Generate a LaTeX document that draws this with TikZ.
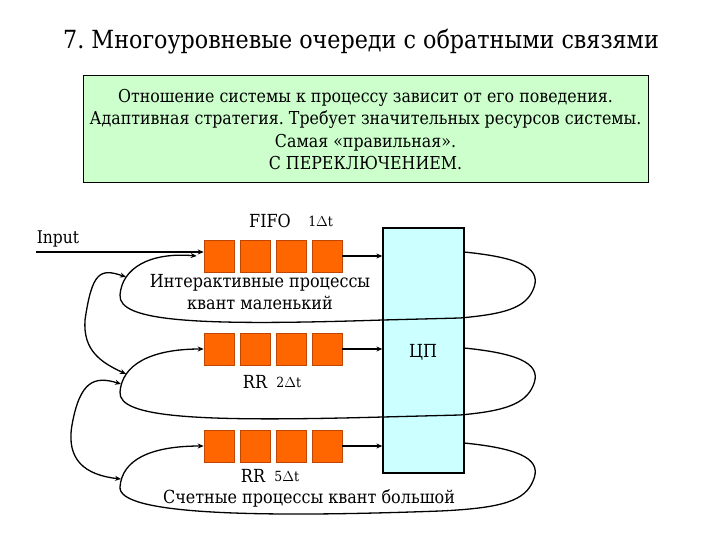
\documentclass[tikz,border=0pt]{standalone}
\usepackage{fontspec}
\setmainfont{DejaVu Serif}[FakeStretch=0.89]
\frenchspacing
\usepackage{tikz}
\usetikzlibrary{arrows.meta, positioning}
\definecolor{qorange}{RGB}{255,102,0}
\definecolor{qedge}{RGB}{190,70,0}
\definecolor{notegreen}{RGB}{204,255,204}
\definecolor{cpucyan}{RGB}{204,255,255}
\tikzstyle{cell} = [
    rectangle,
    draw=qedge,
    fill=qorange,
    line width=0.6pt,
    minimum width=30pt,
    minimum height=32pt,
    inner sep=0pt
]
\tikzstyle{label} = [
    inner sep=0pt,
    font=\fontsize{18}{22}\selectfont
]
\tikzstyle{quant} = [
    inner sep=0pt,
    font=\fontsize{14}{16}\selectfont
]
\tikzstyle{link} = [
    line width=1.3pt,
    -{Stealth[length=6pt,width=5pt]}
]
\tikzstyle{twolink} = [
    line width=1.3pt,
    {Stealth[length=6pt,width=5pt]}-{Stealth[length=6pt,width=5pt]}
]
\begin{document}
\begin{tikzpicture}[x=1pt, y=-1pt]
        \useasboundingbox (0,0) rectangle (720,540);

        % Title
        \node[inner sep=0pt, font=\fontsize{25}{30}\selectfont] (title) at (361,42) {7. Многоуровневые очереди с обратными связями};

        % Note
        \node[draw, line width=1pt, fill=notegreen, minimum width=565pt, minimum height=107pt,
              align=center, font=\fontsize{17.8}{22.5}\selectfont] (note) at (365.5,129.5)
              {Отношение системы к процессу зависит от его поведения.\\
               Адаптивная стратегия. Требует значительных ресурсов системы.\\
               Самая «правильная».\\
               С ПЕРЕКЛЮЧЕНИЕМ.};

        % CPU
        \node[draw, line width=1.3pt, fill=cpucyan, minimum width=81pt, minimum height=245pt] (cpu) at (423.5,350.5) {};
        \node[label] (cpulabel) at (423,352) {ЦП};

        % Queues
        \foreach \r/\y in {1/256, 2/349, 3/446} {
            \foreach \i in {1,...,4} {
                \node[cell] (q\r\i) at ({219+36*(\i-1)},\y) {};
            }
            \draw[link] (q\r4.east) -- (q\r4.east -| cpu.west);
        }

        % Labels
        \node[label] (fifo) at (270,221) {FIFO};
        \node[quant, right=17pt of fifo] (dt1) {1$\Delta$t};
        \node[label, align=center] (inter) at (260,292) {Интерактивные процессы\\квант маленький};
        \node[label] (rr2) at (255,382) {RR};
        \node[quant, right=9pt of rr2] (dt2) {2$\Delta$t};
        \node[label] (rr5) at (253,476) {RR};
        \node[quant, right=9pt of rr5] (dt5) {5$\Delta$t};
        \node[label] (batch) at (309,498) {Счетные процессы квант большой};

        % Input
        \node[inner sep=0pt, font=\fontsize{17.5}{20}\selectfont] (input) at (58,239) {Input};
        \coordinate (in) at (36,252);
        \draw[link] (in) -- (in -| q11.west);

        % Loops back from the CPU
        \coordinate (o1) at (464,252);
        \coordinate (o2) at (464,348);
        \coordinate (o3) at (464,443);
        \coordinate (j1) at (126,277);
        \coordinate (j2) at (126,374);
        \coordinate (k2) at (121,384);
        \coordinate (k3) at (121,479);
        \draw[link] (o1) .. controls (525,258) and (542,270) .. (533,290)
            .. controls (525,308) and (505,314) .. (460,318) -- (383,320)
            .. controls (200,326) and (118,322) .. (120,295)
            .. controls (122,268) and (150,252) .. ([xshift=-7pt]q11.west);
        \draw[link] (o2) .. controls (525,354) and (542,366) .. (533,386)
            .. controls (525,404) and (505,411) .. (460,415) -- (383,417)
            .. controls (200,422) and (118,418) .. (120,392)
            .. controls (122,365) and (150,349) .. (q21.west);
        \draw[link] (o3) .. controls (525,449) and (542,461) .. (533,481)
            .. controls (525,500) and (505,508) .. (440,511)
            .. controls (250,518) and (118,514) .. (120,487)
            .. controls (122,460) and (150,446) .. (q31.west);

        % Links between the levels
        \draw[twolink] (j1) .. controls (100,268) and (92,272) .. (85,320)
            .. controls (83,350) and (100,362) .. (j2);
        \draw[twolink] (k2) .. controls (95,376) and (80,380) .. (72,425)
            .. controls (66,460) and (85,475) .. (k3);
    \end{tikzpicture}
\end{document}
